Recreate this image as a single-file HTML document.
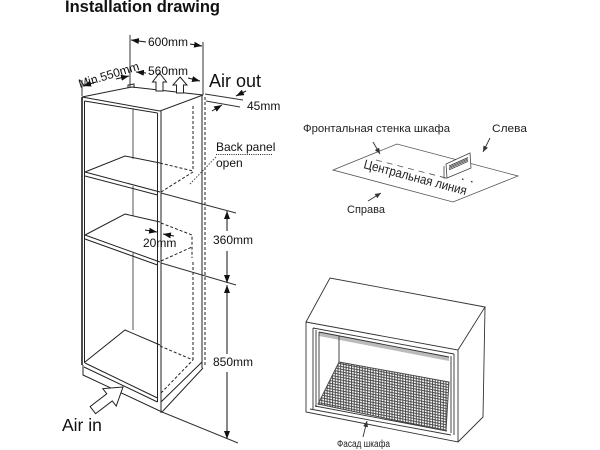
<!DOCTYPE html>
<html><head><meta charset="utf-8">
<style>html,body{margin:0;padding:0;background:#fff}svg{display:block}</style></head>
<body>
<svg width="600" height="450" viewBox="0 0 600 450" xmlns="http://www.w3.org/2000/svg" font-family="'Liberation Sans', Arial, sans-serif">
<defs>
<marker id="a" markerUnits="userSpaceOnUse" markerWidth="9" markerHeight="6" refX="8" refY="3" orient="auto"><path d="M0,0 L8,3 L0,6 z" fill="#111"/></marker>
<marker id="s" markerUnits="userSpaceOnUse" markerWidth="7" markerHeight="5" refX="6" refY="2.5" orient="auto"><path d="M0,0 L6,2.5 L0,5 z" fill="#333"/></marker>
<pattern id="mesh" width="2.7" height="2.7" patternUnits="userSpaceOnUse" patternTransform="skewY(11)">
<rect width="2.7" height="2.7" fill="#fff"/>
<path d="M0,0.5 H2.7 M0.5,0 V2.7" stroke="#4a4a4a" stroke-width="1"/>
</pattern>
</defs>
<rect width="600" height="450" fill="#fff"/>

<!-- Title -->
<text x="65" y="12" font-size="16.5" font-weight="bold" fill="#111" textLength="155" lengthAdjust="spacingAndGlyphs">Installation drawing</text>

<!-- Cabinet -->
<g fill="none" stroke="#222" stroke-width="1">
  <path d="M82,97 L132,87 L203,95 L160,111 Z"/>
  <path d="M128,88 L128,85 L134,84 L134,88"/>
  <path d="M82,97 V365" stroke-width="1.6"/>
  <path d="M84.5,101 V363"/>
  <path d="M84.5,101 L157.5,113"/>
  <path d="M157.5,113 V402 M161,111 V413"/>
  <path d="M202,95 V368"/>
  <path d="M205,97 V366" stroke-dasharray="3,2"/>
  <path d="M193,106 V171 M193,262 V360" stroke-dasharray="3,2"/>
  <!-- back-left vertical -->
  <path d="M133,108 V159 M133,186 V216 M133,253 V330" stroke="#555"/>
  <!-- shelf 1 -->
  <path d="M85,172 L125,156 L160,163"/>
  <path d="M160,163 L193,171 M161,192 L193,172" stroke-dasharray="3,2"/>
  <path d="M85,172 L160,192 M85,176 L157.5,195"/>
  <!-- shelf 2 -->
  <path d="M85,235 L125,214 L160,222"/>
  <path d="M161,223 L192,235 V258 M161,261 L192,247" stroke-dasharray="3,2"/>
  <path d="M85,235 L160,262 M85,239 L157.5,265"/>
  <!-- floor -->
  <path d="M85,362 L125,330 L160,345"/>
  <path d="M160,346 L193,360 M161,393 L193,360" stroke-dasharray="3,2"/>
  <path d="M85,363 L157.5,398 M84,367 L157.5,402"/>
  <!-- plinth -->
  <path d="M83,365 V375 L162,412 L203,368 M161,402 L202,362"/>
  <!-- back panel leader -->
  <path d="M216,157 L190,184" stroke-dasharray="1.5,1.5" stroke="#444"/>
  <path d="M216,154.5 H272" stroke-dasharray="1,1.2" stroke="#222"/>
  <!-- extension lines -->
  <path d="M130,35 V88 M203,42 V95 M82,80 V96" stroke="#333"/>
  <path d="M161,193 L236,213 M161,263 L236,285 M162,412 L238,443" stroke="#333"/>
  <!-- 45mm -->
  <path d="M205,94 L243,100 M206,101 L240,107" stroke="#333"/>
</g>

<!-- dimension arrows -->
<g stroke="#111" stroke-width="1" fill="none">
  <path d="M146,42 L131,40" marker-end="url(#a)"/>
  <path d="M190,44 L202,46" marker-end="url(#a)"/>
  <path d="M146,73 L136,72" marker-end="url(#a)"/>
  <path d="M188,78 L200,81" marker-end="url(#a)"/>
  <path d="M96,82 L83,86" marker-end="url(#a)"/>
  <path d="M116,79 L129,76" marker-end="url(#a)"/>
  <path d="M246,91 L236,96" marker-end="url(#a)"/>
  <path d="M212,111 L222,105" marker-end="url(#a)"/>
  <path d="M227,231 L227,211" marker-end="url(#a)"/>
  <path d="M227,251 L227,283" marker-end="url(#a)"/>
  <path d="M227,354 L227,285" marker-end="url(#a)"/>
  <path d="M227,372 L227,439" marker-end="url(#a)"/>
  <path d="M145,230 L157,232" marker-end="url(#a)"/>
  <path d="M174,236 L163,234" marker-end="url(#a)"/>
</g>

<!-- air arrows -->
<g fill="#fff" stroke="#222" stroke-width="1">
  <path d="M159.5,73 L166.5,82 L163,82 L163,91 L156,91 L156,82 L152.5,82 Z"/>
  <path d="M180,77 L187,85 L183.5,85 L183.5,93 L176.5,93 L176.5,85 L173,85 Z"/>
  <path transform="translate(123,387) rotate(-37.5)" d="M0,0 L-17,-11 L-17,-4.5 L-38,-4.5 L-38,4.5 L-17,4.5 L-17,11 Z"/>
</g>

<!-- cabinet texts -->
<g fill="#111">
  <text x="0" y="0" font-size="12" transform="translate(80,88) rotate(-17)">Min.550mm</text>
  <text x="148" y="46" font-size="12">600mm</text>
  <text x="148" y="75" font-size="12">560mm</text>
  <text x="209" y="87" font-size="18">Air out</text>
  <text x="247" y="110" font-size="12">45mm</text>
  <text x="216" y="151" font-size="12">Back panel</text>
  <text x="216" y="167" font-size="12">open</text>
  <text x="143" y="247" font-size="12">20mm</text>
  <text x="213" y="244" font-size="12">360mm</text>
  <text x="213" y="366" font-size="12">850mm</text>
  <text x="62" y="431" font-size="17.5">Air in</text>
</g>

<!-- plane diagram -->
<g fill="none" stroke="#555" stroke-width="0.8">
  <path d="M333,170 L397,144 L518,176 L453,202 Z"/>
  <path d="M376,160 L446,178" stroke-dasharray="6,5"/>
  <path d="M462,179 L463.5,179.5 M471,181.5 L472.5,182" stroke="#333" stroke-width="1.2"/>
</g>
<g stroke="#444" stroke-width="0.8">
  <path d="M446,164 L470,153 L471,168 L447,178 Z" fill="#fff"/>
  <path d="M444,166 V178 L447,178" fill="none"/>
  <path d="M449,166 L468,157.5 M449,167.3 L468,158.8 M449,168.6 L468,160.1 M449,169.9 L468,161.4" stroke="#333" stroke-width="0.7"/>
</g>
<g stroke="#333" stroke-width="0.9" fill="none">
  <path d="M373,142 L380,154" marker-end="url(#s)"/>
  <path d="M490,138 L483,152" marker-end="url(#s)"/>
  <path d="M368,201 L381,193" marker-end="url(#s)"/>
</g>
<g fill="#222" font-family="'Liberation Sans', 'DejaVu Sans', sans-serif">
  <text x="303" y="132" font-size="11" textLength="147" lengthAdjust="spacingAndGlyphs">Фронтальная стенка шкафа</text>
  <text x="492" y="132" font-size="11" textLength="35" lengthAdjust="spacingAndGlyphs">Слева</text>
  <text x="347" y="213" font-size="11" textLength="38" lengthAdjust="spacingAndGlyphs">Справа</text>
  <text x="0" y="0" font-size="13" transform="translate(363,168) rotate(14.8)" textLength="106" lengthAdjust="spacingAndGlyphs">Центральная линия</text>
</g>

<!-- box diagram -->
<g fill="none" stroke="#333" stroke-width="0.9">
  <path d="M306,322 L458,350 L458,442 L306,412 Z"/>
  <path d="M306,322 L330,278 L485,307 L458,350"/>
  <path d="M485,307 L483,417 L458,442"/>
  <path d="M319,332 L449,357 L449,361 L319,336 Z" fill="#bbb" stroke="none"/>
  <path d="M313,328 L454,354 M319,332 L449,357"/>
  <path d="M313,328 V409 M316,330 V407 M319,332 V405"/>
  <path d="M454,354 V435 M451,356 V433"/>
  <path d="M310,409 L451,435 M315,406 L447,431"/>
  <path d="M339,336 V362"/>
  <path d="M339,362 L449,382 L446,431 L318,404 Z" fill="url(#mesh)" stroke="#444"/>
  <path d="M363,437 L367,421" marker-end="url(#s)"/>
</g>
<text x="337" y="447" font-size="10" fill="#222" textLength="53" lengthAdjust="spacingAndGlyphs" font-family="'Liberation Sans', 'DejaVu Sans', sans-serif">Фасад шкафа</text>
</svg>
</body></html>
